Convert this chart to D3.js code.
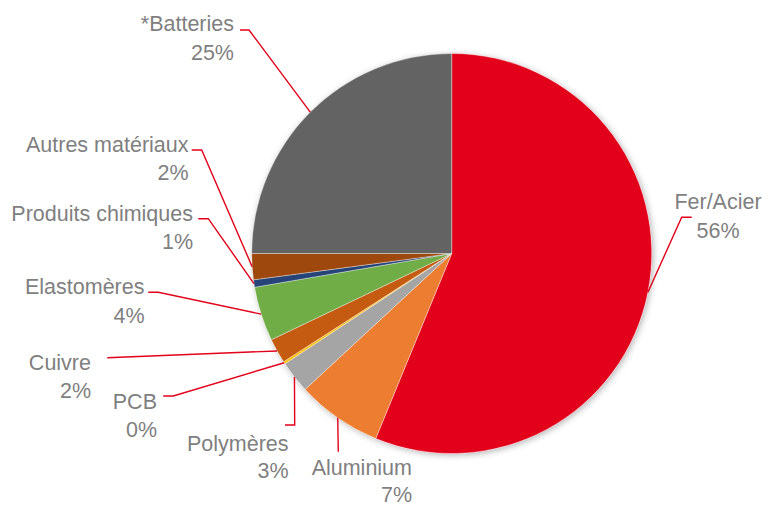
<!DOCTYPE html>
<html>
<head>
<meta charset="utf-8">
<script src="https://cdn.jsdelivr.net/npm/d3@7"></script>
<style>
  html, body { margin: 0; padding: 0; background: #fff; }
  svg { display: block; }
  text { font-family: "Liberation Sans", Arial, sans-serif; }
</style>
</head>
<body>
<svg id="chart" width="777" height="505"></svg>
<script>
// ---- Data ----
const categories = ["Fer/Acier", "Aluminium", "Polymères", "PCB", "Cuivre", "Elastomères", "Produits chimiques", "Autres matériaux", "*Batteries"];
const values = [56.2, 6.9, 2.6, 0.2, 2.0, 4.4, 0.6, 2.1, 25.0];
const colors = ["#E2001A", "#ED7D31", "#A5A5A5", "#FFC000", "#C55A11", "#70AD47", "#264478", "#9E480E", "#636363"];

// ---- Layout (label placement, leader knees) ----
const labelLayout = [
  { x: 718,   y: 209,   gap: 28.5, anchor: "middle", knees: [[691.7, 217.3], [681.7, 217.3]] },
  { x: 412,   y: 475,   gap: 26.5, anchor: "end",    knees: [[338.3, 451.7]] },
  { x: 288.5, y: 451,   gap: 27,   anchor: "end",    knees: [[285, 425], [294.7, 425]] },
  { x: 157,   y: 408.5, gap: 28.5, anchor: "end",    knees: [[163.3, 396], [173.3, 396]] },
  { x: 91,    y: 370,   gap: 27.5, anchor: "end",    knees: [[107.3, 357.7]] },
  { x: 144.5, y: 293.5, gap: 29,   anchor: "end",    knees: [[148.3, 292.3], [158.3, 292.3]] },
  { x: 193,   y: 220.5, gap: 28,   anchor: "end",    knees: [[198.3, 218.7], [208.3, 218.7]] },
  { x: 188.5, y: 151.5, gap: 28.5, anchor: "end",    knees: [[191.7, 150], [201.7, 150]] },
  { x: 234,   y: 31,    gap: 29,   anchor: "end",    knees: [[240, 30], [249, 30]] }
];

const cx = 451.7, cy = 253.5, R = 200;

const svg = d3.select("#chart");
const defs = svg.append("defs");
const f = defs.append("filter").attr("id", "shadow")
  .attr("x", "-10%").attr("y", "-10%").attr("width", "120%").attr("height", "120%");
f.append("feDropShadow").attr("dx", 1.5).attr("dy", 1.5).attr("stdDeviation", 3)
  .attr("flood-color", "#000").attr("flood-opacity", 0.3);

const data = categories.map((c, i) => ({ cat: c, value: values[i], color: colors[i], layout: labelLayout[i] }));

const pie = d3.pie().value(d => d.value).sort(null);
const arcs = pie(data);
const arc = d3.arc().innerRadius(0).outerRadius(R);

const g = svg.append("g").attr("transform", `translate(${cx},${cy})`);

// shadow base
g.append("circle").attr("r", R).attr("fill", "#fff").attr("filter", "url(#shadow)");

g.selectAll("path.slice")
  .data(arcs)
  .join("path")
  .attr("class", "slice")
  .attr("d", arc)
  .attr("fill", d => d.data.color)
  .attr("stroke", "rgba(255,255,255,0.6)")
  .attr("stroke-width", 0.6);

// leader lines
const line = d3.line();
arcs.forEach(a => {
  const mid = (a.startAngle + a.endAngle) / 2;
  const end = [cx + R * Math.sin(mid), cy - R * Math.cos(mid)];
  const pts = a.data.layout.knees.concat([end]);
  svg.append("path")
    .attr("d", line(pts))
    .attr("fill", "none")
    .attr("stroke", "#E2001A")
    .attr("stroke-width", 1.4);
});

// labels
arcs.forEach(a => {
  const L = a.data.layout;
  const t = svg.append("text")
    .attr("x", L.x).attr("y", L.y)
    .attr("text-anchor", L.anchor)
    .attr("font-size", 21.5)
    .attr("fill", "#7F7F7F");
  t.append("tspan").attr("x", L.x).attr("y", L.y).text(a.data.cat);
  t.append("tspan").attr("x", L.x).attr("y", L.y + L.gap).text(Math.round(a.data.value) + "%");
});
</script>
</body>
</html>
